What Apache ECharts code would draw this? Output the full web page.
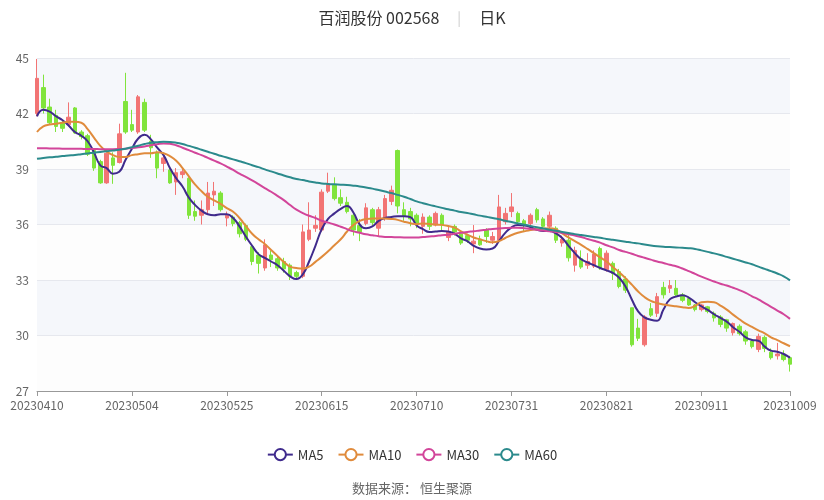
<!DOCTYPE html>
<html>
<head>
<meta charset="utf-8">
<script src="https://cdn.jsdelivr.net/npm/echarts@6/dist/echarts.min.js"></script>
<style>html,body{margin:0;padding:0;background:#fff}#c{width:824px;height:500px}</style>
</head>
<body>
<div id="c"></div>
<script>
var dates = ['20230410','20230411','20230412','20230413','20230414','20230417','20230418','20230419','20230420','20230421','20230424','20230425','20230426','20230427','20230428',
'20230504','20230505','20230508','20230509','20230510','20230511','20230512','20230515','20230516','20230517','20230518','20230519','20230522','20230523','20230524','20230525','20230526','20230529','20230530','20230531',
'20230601','20230602','20230605','20230606','20230607','20230608','20230609','20230612','20230613','20230614','20230615','20230616','20230619','20230620','20230621','20230626','20230627','20230628','20230629','20230630',
'20230703','20230704','20230705','20230706','20230707','20230710','20230711','20230712','20230713','20230714','20230717','20230718','20230719','20230720','20230721','20230724','20230725','20230726','20230727','20230728','20230731',
'20230801','20230802','20230803','20230804','20230807','20230808','20230809','20230810','20230811','20230814','20230815','20230816','20230817','20230818','20230821','20230822','20230823','20230824','20230825','20230828','20230829','20230830','20230831',
'20230901','20230904','20230905','20230906','20230907','20230908','20230911','20230912','20230913','20230914','20230915','20230918','20230919','20230920','20230921','20230922','20230925','20230926','20230927','20230928',
'20231009'];

var opens = [42.0,43.4,42.35,41.9,41.5,41.4,42.3,41.0,40.8,40.0, 39.4,38.25,39.6,39.35,42.65,41.4,41.0,42.6,40.5,39.9, 39.3,38.95,38.3,38.7,38.5,36.7,36.5,36.8,37.6,37.7, 36.35,36.4,36.1,35.95,34.8,34.35,33.65,34.35,34.15,34.0, 33.8,33.4,33.2,35.2,35.8,35.7,37.8,38.15,37.45,37.2, 36.5,35.95,36.05,36.8,35.8,36.35,37.25,40.0,36.8,36.7, 36.5,35.9,36.4,35.97,36.5,35.3,35.9,35.5,35.4,34.95, 35.2,35.7,35.15,35.15,36.15,36.7,36.6,36.2,36.05,36.8, 36.3,35.9,35.8,35.0,35.15,33.8,34.15,33.8,33.75,34.7, 33.55,33.9,33.45,33.05,31.5,30.4,29.5,31.45,31.2,32.6, 32.55,32.55,32.2,32.0,31.65,31.4,31.55,31.2,31.0,30.85, 30.15,30.5,30.2,29.7,29.25,29.9,29.1,28.9,29.0,28.8];
var closes = [43.9,42.3,41.5,41.3,41.2,41.8,40.95,40.75,39.8,39.05, 38.25,39.85,39.2,40.9,41.0,41.1,42.9,41.1,40.15,39.05, 39.6,38.25,38.8,38.85,36.5,36.45,36.8,37.7,37.8,36.8, 36.5,36.05,35.5,35.2,34.0,33.9,34.9,34.1,33.65,33.6, 33.2,33.2,35.6,35.7,35.95,37.75,38.2,37.4,37.15,36.7, 35.7,35.6,36.9,36.1,36.8,37.4,37.85,37.0,36.45,36.3, 36.05,36.4,35.9,36.6,35.97,35.6,35.6,35.0,35.15,35.1, 34.9,35.35,35.35,36.95,36.6,36.95,36.15,35.95,36.5,36.25, 35.9,36.5,35.15,35.2,34.2,34.6,33.7,34.0,34.4,33.65, 34.45,33.35,32.65,32.45,29.5,29.85,31.0,31.1,32.1,32.2, 32.7,32.2,31.9,31.65,31.4,31.65,31.3,30.95,30.6,30.4, 30.65,30.1,29.7,29.4,29.95,29.3,28.8,29.0,28.7,28.45];
var lows = [41.85,42.0,41.4,41.0,41.0,41.3,40.9,40.6,39.7,38.9, 38.2,38.2,38.2,39.3,40.9,41.0,40.9,41.0,39.6,38.5, 38.85,38.2,37.6,38.5,36.3,36.2,36.0,36.6,37.0,36.7, 35.9,35.9,35.3,35.1,33.8,33.35,33.5,33.7,33.5,33.4, 33.0,33.0,33.1,35.1,35.6,35.6,37.7,37.3,37.0,36.6, 35.4,35.1,35.95,35.95,35.35,36.2,37.05,36.6,36.2,35.9, 35.8,35.5,35.7,35.9,35.7,35.1,35.4,34.9,35.0,34.45, 34.85,35.0,34.95,35.0,36.0,36.4,36.0,35.6,35.9,36.1, 35.75,35.8,35.0,34.8,34.0,33.45,33.6,33.6,33.65,33.55, 33.45,33.0,32.55,32.3,29.4,29.7,29.4,31.0,31.0,32.0, 32.3,32.1,31.8,31.6,31.3,31.3,31.2,30.75,30.45,30.2, 30.0,30.0,29.5,29.3,29.1,29.1,28.7,28.7,28.6,28.05];
var highs = [44.95,44.1,42.8,42.2,41.6,42.6,42.35,41.1,40.9,40.1, 39.5,39.9,39.9,41.45,44.2,42.2,43.0,42.8,40.85,40.0, 39.9,39.1,39.05,39.1,38.55,37.3,37.3,38.3,38.3,37.8, 36.7,36.5,36.2,36.05,34.9,34.5,35.2,34.6,34.3,34.2, 33.9,33.5,36.0,37.2,36.5,37.9,38.8,38.55,37.9,37.5, 36.6,36.3,37.15,36.9,36.95,37.6,38.1,40.05,37.2,36.9, 36.6,36.6,36.5,36.7,36.6,35.9,36.0,35.6,35.5,35.97, 35.4,35.8,35.6,37.6,36.9,37.7,36.7,36.3,36.6,36.9, 36.4,36.7,35.9,35.4,35.5,34.8,34.6,34.45,34.6,34.8, 34.6,34.0,33.6,33.2,31.5,30.9,31.1,31.75,32.3,32.9, 33.0,33.0,32.3,32.1,31.7,31.7,31.6,31.3,31.1,30.9, 30.7,30.6,30.3,29.8,30.1,30.0,29.3,29.6,29.2,28.9];

var ma5 = [41.85,42.2,42.1,41.85,41.65,41.35,41.0,40.8,40.5,39.9, 39.2,39.05,38.75,38.85,39.5,40.1,40.65,40.85,40.6,40.15, 39.75,39.05,38.5,38.05,37.45,37.05,36.75,36.55,36.5,36.55, 36.55,36.35,35.9,35.35,34.85,34.4,34.2,34.0,33.8,33.5, 33.2,33.05,33.3,34.0,34.85,35.75,36.3,36.6,36.85,37.0, 36.65,36.0,35.8,35.9,36.2,36.35,36.4,36.45,36.45,36.4, 35.95,35.75,35.6,35.62,35.65,35.62,35.5,35.25,35.1,34.85, 34.7,34.65,34.7,35.1,35.55,35.85,35.97,35.95,35.85,35.72, 35.65,35.65,35.52,35.27,34.85,34.45,34.12,33.95,33.8,33.65, 33.52,33.38,33.12,32.65,31.95,31.3,30.98,30.85,30.8,31.4, 31.95,32.1,32.18,32.05,31.8,31.58,31.38,31.15,30.95,30.75, 30.45,30.2,29.9,29.76,29.72,29.4,29.18,29.12,29.0,28.8];
var ma10 = [41.0,41.3,41.4,41.45,41.5,41.55,41.55,41.5,41.15,40.7, 40.25,39.95,39.75,39.65,39.65,39.75,39.8,39.85,39.85,39.9, 39.85,39.7,39.45,39.05,38.6,38.15,37.8,37.5,37.3,37.12, 36.88,36.69,36.35,35.92,35.5,35.2,34.95,34.62,34.3,33.98, 33.72,33.65,33.62,33.72,33.98,34.25,34.55,34.88,35.2,35.62, 35.97,36.2,36.3,36.32,36.33,36.32,36.3,36.25,36.15,36.07, 36.02,36.05,36.03,36.0,35.98,35.92,35.83,35.63,35.45,35.3, 35.2,35.1,35.04,35.1,35.27,35.43,35.55,35.63,35.7,35.74, 35.78,35.8,35.74,35.52,35.3,35.1,34.9,34.68,34.45,34.22, 34.0,33.7,33.42,33.1,32.75,32.38,32.08,31.87,31.76,31.68, 31.62,31.58,31.53,31.49,31.6,31.8,31.83,31.8,31.62,31.4, 31.13,30.88,30.64,30.46,30.28,30.12,29.9,29.75,29.58,29.42];
var ma30 = [40.12,40.12,40.11,40.11,40.1,40.1,40.1,40.09,40.08,40.08, 40.07,40.07,40.07,40.08,40.1,40.13,40.17,40.22,40.28,40.34, 40.38,40.36,40.28,40.15,40.02,39.88,39.75,39.6,39.45,39.3, 39.13,38.95,38.75,38.57,38.38,38.18,37.97,37.77,37.55,37.32, 37.05,36.8,36.62,36.47,36.35,36.2,36.1,36.0,35.88,35.75, 35.63,35.55,35.47,35.42,35.37,35.33,35.32,35.31,35.3,35.3, 35.3,35.32,35.35,35.38,35.42,35.45,35.5,35.55,35.6,35.63, 35.68,35.72,35.76,35.79,35.81,35.82,35.82,35.8,35.76,35.72, 35.67,35.63,35.6,35.54,35.47,35.4,35.32,35.22,35.12,35.02, 34.88,34.76,34.62,34.52,34.42,34.3,34.2,34.1,34.0,33.92, 33.82,33.74,33.62,33.48,33.33,33.18,33.05,32.92,32.8,32.7, 32.58,32.45,32.3,32.12,31.95,31.75,31.55,31.35,31.15,30.9];
var ma60 = [39.55,39.6,39.63,39.66,39.7,39.73,39.76,39.8,39.84,39.88, 39.92,39.96,40.0,40.04,40.1,40.18,40.26,40.35,40.42,40.45, 40.47,40.46,40.42,40.35,40.25,40.15,40.04,39.93,39.82,39.72, 39.62,39.52,39.42,39.32,39.2,39.1,38.98,38.87,38.76,38.65, 38.55,38.46,38.4,38.33,38.27,38.22,38.19,38.17,38.15,38.13, 38.1,38.06,38.0,37.94,37.86,37.78,37.7,37.6,37.5,37.38, 37.25,37.15,37.06,36.98,36.9,36.82,36.75,36.68,36.62,36.55, 36.48,36.42,36.35,36.28,36.2,36.13,36.06,35.99,35.92,35.85, 35.78,35.72,35.66,35.6,35.54,35.48,35.43,35.38,35.33,35.28, 35.22,35.17,35.12,35.07,35.02,34.98,34.92,34.87,34.83,34.8, 34.78,34.76,34.74,34.72,34.68,34.6,34.52,34.44,34.35,34.25, 34.15,34.05,33.95,33.85,33.72,33.6,33.48,33.35,33.2,32.98];

var yTicks = {min: 27, max: 45, interval: 3};
var FONT = '"Noto Sans CJK SC", "Noto Sans", sans-serif';

var kdata = dates.map(function (d, i) { return [opens[i], closes[i], lows[i], highs[i]]; });
function showIdx(i) { return i % 15 === 0 || i === dates.length - 1; }

var chart = echarts.init(document.getElementById('c'), null, {renderer: 'canvas'});
var maColors = ['#3f2a8c', '#e08b3c', '#d2459a', '#2b8a8c'];
function maSeries(name, data, color) {
  return {
    name: name, type: 'line', data: data, smooth: true, showSymbol: false,
    symbol: 'emptyCircle', symbolSize: 8,
    lineStyle: {width: 2, color: color}, itemStyle: {color: color}
  };
}
chart.setOption({
  animation: false,
  backgroundColor: '#fff',
  title: {
    text: '{t|百润股份 002568}{s||}{t|日K}',
    left: 'center', top: 5,
    textStyle: {
      fontWeight: 'normal',
      rich: {
        t: {fontSize: 16, color: '#333', fontWeight: 'normal', fontFamily: FONT},
        s: {fontSize: 14, color: '#cccccc', fontWeight: 'normal', padding: [0, 18, 0, 18], fontFamily: FONT}
      }
    }
  },
  legend: {
    top: 443, left: 'center', itemGap: 14,
    data: ['MA5', 'MA10', 'MA30', 'MA60'],
    textStyle: {color: '#333', fontSize: 13, fontFamily: FONT}
  },
  grid: {left: 37, right: 34, top: 58, bottom: 109},
  xAxis: {
    type: 'category', data: dates, boundaryGap: false,
    axisLine: {lineStyle: {color: '#999'}},
    axisTick: {interval: function (i) { return showIdx(i); }, lineStyle: {color: '#999'}},
    axisLabel: {interval: function (i) { return showIdx(i); }, color: '#666', fontSize: 12, fontFamily: FONT, margin: 8},
    splitLine: {show: false}
  },
  yAxis: {
    type: 'value', min: yTicks.min, max: yTicks.max, interval: yTicks.interval, scale: true,
    axisLine: {show: false}, axisTick: {show: false},
    axisLabel: {color: '#666', fontSize: 12, fontFamily: FONT},
    splitLine: {lineStyle: {color: '#e6e8ee'}},
    splitArea: {show: true, areaStyle: {color: ['rgba(250,250,250,0.3)', 'rgba(210,219,238,0.22)']}}
  },
  graphic: [{
    type: 'text', left: 'center', top: 482,
    style: {text: '数据来源： 恒生聚源', fill: '#666', fontSize: 13, fontFamily: FONT}
  }],
  series: [
    {
      name: '日K', type: 'candlestick', data: kdata, barWidth: 4, clip: false,
      itemStyle: {color: '#f27474', color0: '#80e43c', borderColor: '#f27474', borderColor0: '#80e43c', borderWidth: 1}
    },
    maSeries('MA5', ma5, maColors[0]),
    maSeries('MA10', ma10, maColors[1]),
    maSeries('MA30', ma30, maColors[2]),
    maSeries('MA60', ma60, maColors[3])
  ]
});
</script>
</body>
</html>
